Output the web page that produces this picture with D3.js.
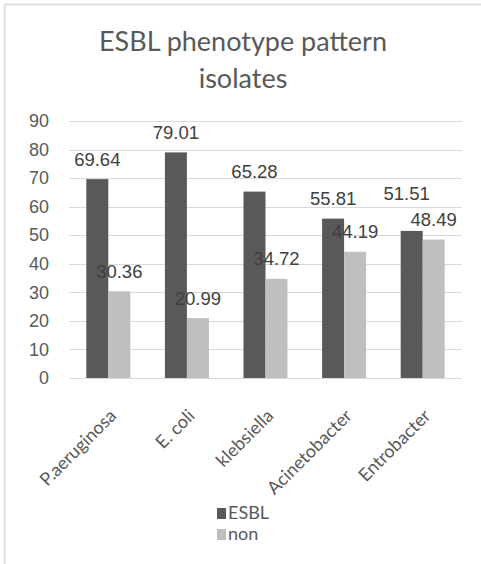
<!DOCTYPE html>
<html>
<head>
<meta charset="utf-8">
<script src="https://cdn.jsdelivr.net/npm/d3@7"></script>
<style>
  html, body { margin: 0; padding: 0; background: #fff; }
  svg { display: block; }
</style>
</head>
<body>
<svg id="chart" width="481" height="564"></svg>
<script>
// Organisms and ESBL / non-ESBL percentages
const categories = ["P.aeruginosa", "E. coli", "klebsiella", "Acinetobacter", "Entrobacter"];
const seriesNames = ["ESBL", "non"];
const esblValues = [69.64, 79.01, 65.28, 55.81, 51.51];
const nonValues = [30.36, 20.99, 34.72, 44.19, 48.49];
const yTicks = [0, 10, 20, 30, 40, 50, 60, 70, 80, 90];
const titleLines = ["ESBL phenotype pattern", "isolates"];

const colors = { ESBL: "#595959", non: "#bfbfbf" };
const textGray = "#595959";
const labelGray = "#404040";
const calibriLike = "Lato, 'Open Sans', sans-serif";
const arialLike = "'Liberation Sans', Arial, sans-serif";

const svg = d3.select("#chart");

// frame edges (top and left)
svg.append("line").attr("x1", 4).attr("x2", 481).attr("y1", 4.5).attr("y2", 4.5)
  .attr("stroke", "#e0e0e0").attr("stroke-width", 2);
svg.append("line").attr("x1", 4.5).attr("x2", 4.5).attr("y1", 4).attr("y2", 564)
  .attr("stroke", "#e0e0e0").attr("stroke-width", 2);

// title
const title = svg.append("text")
  .attr("text-anchor", "middle")
  .attr("fill", textGray)
  .style("font-family", calibriLike)
  .style("font-size", "27px");
titleLines.forEach((t, i) => {
  title.append("tspan").attr("x", 243).attr("y", 51 + i * 37).text(t);
});

const x0 = d3.scaleBand().domain(categories).range([69, 462]).paddingInner(0).paddingOuter(0);
const x1 = d3.scaleBand().domain(seriesNames).range([17.3, x0.bandwidth() - 17.3]).padding(0);
const y = d3.scaleLinear().domain([0, 90]).range([378, 121]);

// gridlines
svg.append("g")
  .selectAll("line")
  .data(yTicks)
  .join("line")
  .attr("x1", 69).attr("x2", 462)
  .attr("y1", d => Math.round(y(d)) + 0.5).attr("y2", d => Math.round(y(d)) + 0.5)
  .attr("stroke", "#d9d9d9").attr("stroke-width", 1);

// y axis labels
const yAxis = d3.axisLeft(y).tickValues(yTicks).tickSize(0).tickPadding(0);
const gy = svg.append("g").attr("transform", "translate(49,0)").call(yAxis);
gy.select(".domain").remove();
gy.selectAll("text")
  .attr("fill", textGray)
  .style("font-family", arialLike)
  .style("font-size", "18px");

// grouped data
const rows = categories.map((c, i) => ({
  cat: c,
  vals: [{ key: "ESBL", v: esblValues[i] }, { key: "non", v: nonValues[i] }]
}));

const groups = svg.append("g").selectAll("g")
  .data(rows)
  .join("g")
  .attr("transform", d => `translate(${x0(d.cat)},0)`);

groups.selectAll("rect")
  .data(d => d.vals)
  .join("rect")
  .attr("x", d => x1(d.key))
  .attr("width", x1.bandwidth())
  .attr("y", d => y(d.v))
  .attr("height", d => y(0) - y(d.v))
  .attr("fill", d => colors[d.key]);

// value labels, lifting the first label of a group when it collides with the second
const labelSize = 18.5;
groups.each(function (d) {
  const g = d3.select(this);
  const pos = d.vals.map(v => ({
    key: v.key,
    v: v.v,
    cx: x1(v.key) + x1.bandwidth() / 2,
    by: y(v.v) - 13.5
  }));
  const w = 48, h = 14;
  const a = pos[0], b = pos[1];
  if (Math.abs(a.cx - b.cx) < w && Math.abs(a.by - b.by) < h) {
    a.by = b.by - h - 12;
    a.cx -= 5;
  }
  g.selectAll("text.val")
    .data(pos)
    .join("text")
    .attr("class", "val")
    .attr("x", p => p.cx)
    .attr("y", p => p.by)
    .attr("text-anchor", "middle")
    .attr("fill", labelGray)
    .style("font-family", arialLike)
    .style("font-size", labelSize + "px")
    .text(p => p.v.toFixed(2));
});

// category labels
svg.append("g").selectAll("text")
  .data(categories)
  .join("text")
  .attr("transform", c => `translate(${x0(c) + x0.bandwidth() / 2 + 9},${417}) rotate(-45)`)
  .attr("text-anchor", "end")
  .attr("fill", textGray)
  .style("font-family", calibriLike)
  .style("font-size", "18px")
  .text(c => c);

// legend
const legend = svg.append("g").attr("transform", "translate(217,508)");
seriesNames.forEach((s, i) => {
  const row = legend.append("g").attr("transform", `translate(0,${i * 21})`);
  row.append("rect").attr("x", 0).attr("y", 0).attr("width", 9).attr("height", 11)
    .attr("fill", colors[s]);
  row.append("text").attr("x", 11).attr("y", 11)
    .attr("fill", textGray)
    .style("font-family", calibriLike)
    .style("font-size", "18px")
    .text(s);
});
</script>
</body>
</html>
